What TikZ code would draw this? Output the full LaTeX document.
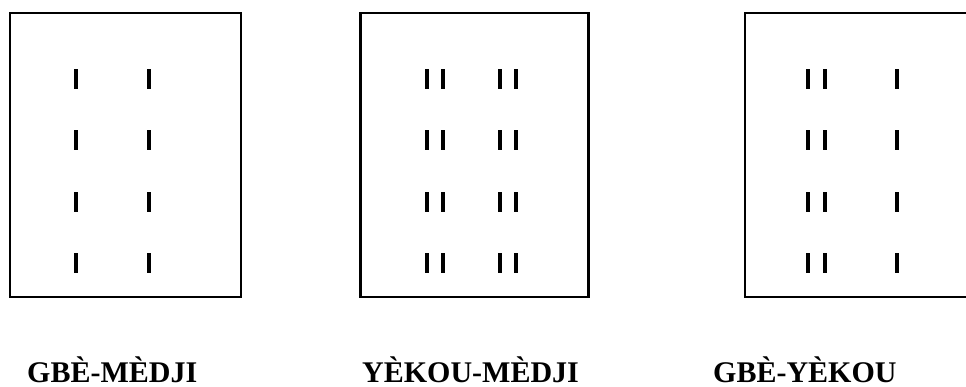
\documentclass[tikz,border=0pt]{standalone}
\usepackage{fontspec}
\setmainfont{Liberation Serif}
\usepackage{tikz}
\usetikzlibrary{positioning}

\begin{document}
\begin{tikzpicture}[x=1pt,y=-1pt]
\tikzstyle{frame}=[draw,line width=2.8pt,minimum height=284pt,inner sep=0pt]
\tikzstyle{tally}=[line width=4.2pt]
\tikzstyle{caption}=[font=\bfseries\fontsize{30}{36}\selectfont,anchor=base west,inner sep=0pt]
\useasboundingbox (0,0) rectangle (966,387);
\clip (0,0) rectangle (966,387);
% the three figures
\node[frame,minimum width=231pt] (gbemedji) at (125.5,155) {};
\node[frame,minimum width=227.5pt] (yekoumedji) at (474.5,155) {};
\node[frame,minimum width=228pt] (gbeyekou) at (859,155) {};
% marks, four rows each
\foreach \y in {79,140,202,263} {
  \draw[tally] (76.3,\y-9.7) -- (76.3,\y+9.7);
  \draw[tally] (149,\y-9.7) -- (149,\y+9.7);
  \foreach \x in {427,443.3,499.7,515.7}
    \draw[tally] (\x,\y-9.7) -- (\x,\y+9.7);
  \foreach \x in {808.3,825,897.3}
    \draw[tally] (\x,\y-9.7) -- (\x,\y+9.7);
}
% names
\node[caption] (lblgbemedji) at (27,382) {GBÈ-MÈDJI};
\node[caption] (lblyekoumedji) at (362,382) {YÈKOU-MÈDJI};
\node[caption] (lblgbeyekou) at (713,382) {GBÈ-YÈKOU};
\end{tikzpicture}
\end{document}
